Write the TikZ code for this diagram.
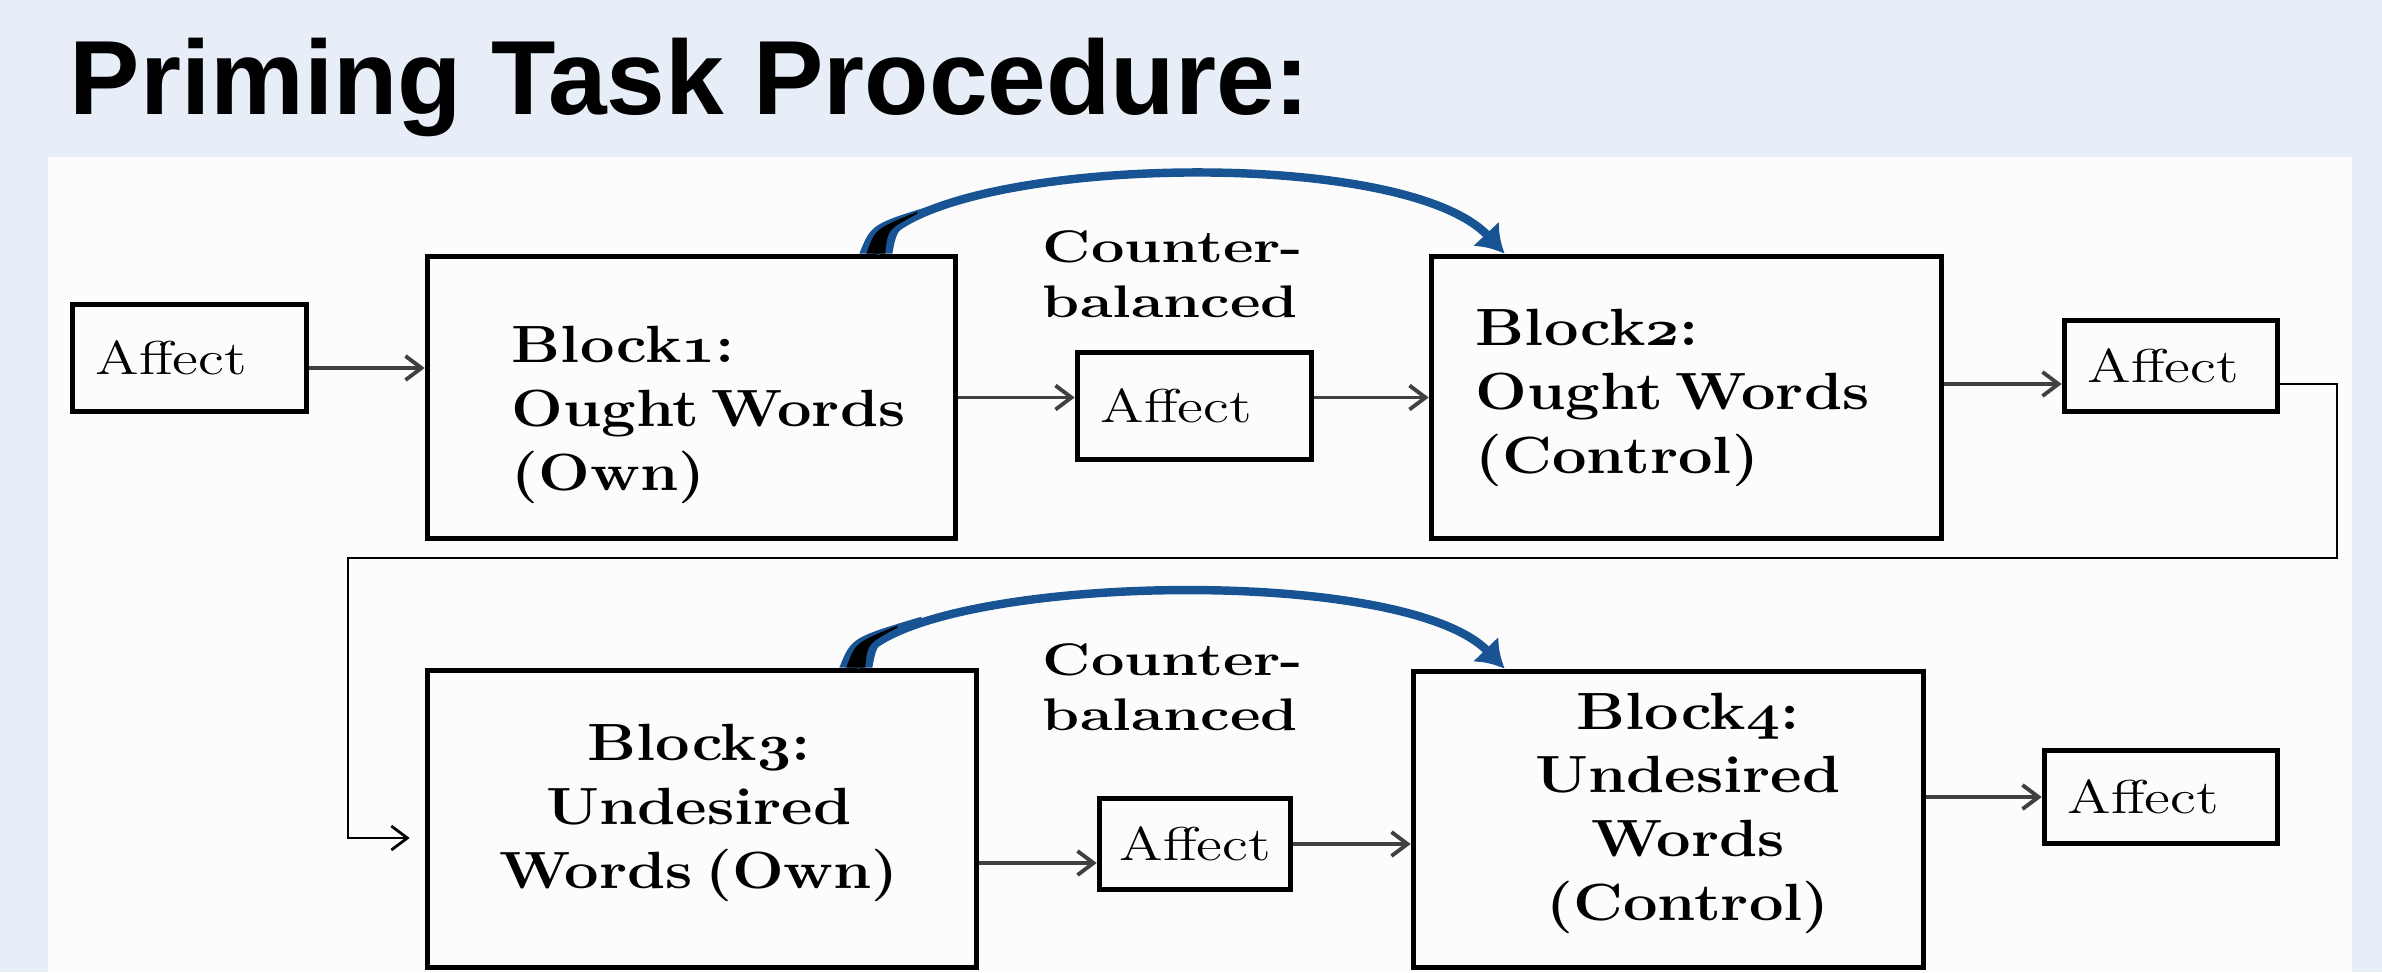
\documentclass[tikz,border=0pt]{standalone}
\usepackage{fontspec}
\usepackage{graphicx}
\usetikzlibrary{arrows,arrows.meta,positioning}
\newfontfamily\titlefont{Liberation Sans}
\definecolor{slidebg}{RGB}{231,238,247}
\definecolor{panel}{RGB}{252,252,252}
\definecolor{arcblue}{RGB}{24,84,148}
% old style digits of the block numbers
\newcommand{\osn}[1]{{\usefont{OML}{cmm}{b}{it}#1}}
\newcommand{\wideA}[1]{\scalebox{1.25}[1]{#1}}
\newcommand{\blockfont}{\fontsize{14.9}{18.1}\selectfont\bfseries\spaceskip=0.2em\relax}

\begin{document}
\begin{tikzpicture}
\tikzset{box/.style={draw, line width=1.6pt, inner sep=0pt},
  affect/.style={box, inner xsep=0.23cm, align=left, font=\fontsize{13.5}{16}\selectfont},
  blocktxt/.style={inner sep=0pt, xscale=1.17, font=\blockfont},
  cbtxt/.style={inner sep=0pt, anchor=base west, align=left, xscale=1.3, font=\fontsize{13}{15.65}\selectfont\bfseries},
  link/.style={draw=black!75, line width=1.1pt, -{Straight Barb[length=0.16cm,width=0.24cm]}},
  loopback/.style={line width=0.8pt, -{Straight Barb[length=0.16cm,width=0.24cm]}, shorten >=0.15cm},
  curvearrow/.style={draw=arcblue, line width=2.4pt, -{Latex[length=0.27cm,width=0.36cm]}}}
\useasboundingbox (0,0) rectangle (23.82,-9.72);
%slide and white panel
\fill[slidebg] (0,0) rectangle (23.82,-9.72);
\fill[panel] (0.48,-1.57) rectangle (23.52,-9.72);
\node[anchor=base west, inner sep=0pt, font=\fontsize{30}{36}\titlefont\bfseries] (title) at (0.69,-1.14) {Priming Task Procedure:};
%first row
\node[affect, text width=1.88cm, minimum height=1.07cm] (a1) at (1.895,-3.58) {\wideA{Affect}};
\node[box, minimum width=5.28cm, minimum height=2.82cm] (b1) at (6.915,-3.975) {};
\node[affect, text width=1.88cm, minimum height=1.07cm] (a2) at (11.945,-4.06) {\wideA{Affect}};
\node[box, minimum width=5.10cm, minimum height=2.82cm] (b2) at (16.865,-3.975) {};
\node[affect, text width=1.67cm, minimum height=0.91cm] (a3) at (21.71,-3.66) {\wideA{Affect}};
%(base of these nodes = last line)
\node[blocktxt, anchor=base west, align=left] (t1) at (5.11,-4.90) {Block\osn{1}:\\Ought Words\\(Own)};
\node[blocktxt, anchor=base west, align=left] (t2) at (14.75,-4.73) {Block\osn{2}:\\Ought Words\\(Control)};
\node[cbtxt] (cb1) at (10.42,-3.17) {Counter-\\balanced};
%second row
\node[box, minimum width=5.49cm, minimum height=2.97cm] (b3) at (7.02,-8.19) {};
\node[affect, inner xsep=0.2cm, text width=1.51cm, minimum height=0.91cm] (a5) at (11.95,-8.44) {\wideA{Affect}};
\node[box, minimum width=5.10cm, minimum height=2.96cm] (b4) at (16.685,-8.195) {};
\node[affect, text width=1.87cm, minimum height=0.93cm] (a4) at (21.61,-7.97) {\wideA{Affect}};
\node[blocktxt, anchor=base, align=center] (t3) at (6.99,-8.88) {Block\osn{3}:\\Undesired\\Words (Own)};
\node[blocktxt, anchor=base, align=center] (t4) at (16.88,-9.20) {Block\osn{4}:\\Undesired\\Words\\(Control)};
\node[cbtxt] (cb2) at (10.42,-7.30) {Counter-\\balanced};
%arrows between boxes
\draw[link] ([yshift=-0.1cm]a1.east) -- ([yshift=-0.1cm]a1.east -| b1.west);
\draw[link] (b1.east) -- (b1.east -| a2.west);
\draw[link] (b2.west -| a2.east) -- (b2.west);
\draw[link] ([yshift=-0.18cm]a3.west -| b2.east) -- ([yshift=-0.18cm]a3.west);
\draw[link] ([yshift=-0.19cm]a5.west -| b3.east) -- ([yshift=-0.19cm]a5.west);
\draw[link] (a5.east) -- (a5.east -| b4.west);
\draw[link] (a4.west -| b4.east) -- (a4.west);
%line back round to block 3
\coordinate (rtop) at (23.37,-5.58);
\coordinate (rleft) at (3.48,-5.58);
\draw[loopback] ([yshift=-0.18cm]a3.east) -| (rtop) -- (rleft) |- ([yshift=-0.19cm]b3.west);
%counterbalanced order
\coordinate (f1) at ([xshift=-0.83cm]b1.north east);
\coordinate (f3) at ([xshift=-1.24cm]b3.north east);
\draw[curvearrow] (f1) .. controls +(0.27,0.95) and +(-1.07,1.14) .. ([xshift=0.76cm]b2.north west);
\draw[curvearrow] (f3) .. controls +(0.27,0.91) and +(-1.07,1.10) .. ([xshift=0.94cm]b4.north west);
%wide feet of the curved arrows
\foreach \f in {f1,f3}{
\begin{scope}[shift={(\f)}]
\fill[arcblue] (-0.16,0) .. controls (-0.04,0.30) .. (0.66,0.51) -- (0.66,0.44) .. controls (0.22,0.27) .. (0.17,0) -- cycle;
\fill[black] (-0.09,0) .. controls (0,0.25) .. (0.42,0.42) -- (0.42,0.40) .. controls (0.12,0.24) .. (0.1,0) -- cycle;
\end{scope}}
\end{tikzpicture}
\end{document}
